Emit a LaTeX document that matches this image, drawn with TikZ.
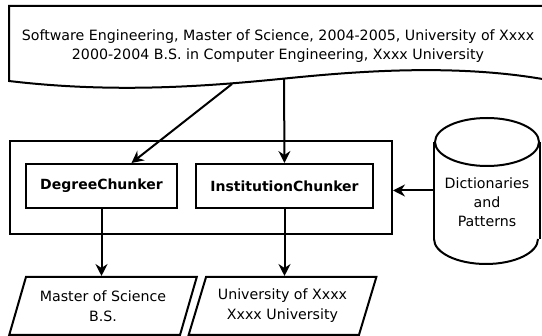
\documentclass[tikz,border=0pt]{standalone}
\usepackage{fontspec}
\setmainfont{DejaVu Sans}
\usepackage{tikz}
\usetikzlibrary{shapes.geometric, arrows.meta, positioning, calc}

\begin{document}
\begin{tikzpicture}[
        x=1pt, y=-1pt,
        line width=2pt,
        every node/.style={font=\fontsize{14.2pt}{19pt}\selectfont},
        chunker/.style={draw, rectangle, minimum height=44pt, align=center, font=\fontsize{14pt}{19pt}\selectfont\bfseries},
        group/.style={draw, rectangle, minimum width=382pt, minimum height=93pt},
        result/.style={draw, trapezium, trapezium left angle=69, trapezium right angle=111, trapezium stretches=true, minimum width=188pt, minimum height=58pt, align=center, font=\fontsize{14.2pt}{20pt}\selectfont},
        cylbody/.style={rectangle, minimum width=104pt, minimum height=95pt, inner sep=0pt},
        arr/.style={-{Stealth[length=12pt, width=12pt, inset=4pt]}}
    ]
        \clip (0,0) rectangle (542,336);

        % Input document
        \draw (548,6) -- (9,6) -- (9,81) .. controls (110,93) and (200,87) .. (280,79)
            .. controls (340,73) and (450,62) .. (548,80);
        \node[align=center] (doc) at (278,46) {Software Engineering, Master of Science, 2004-2005, University of Xxxx\\2000-2004 B.S. in Computer Engineering, Xxxx University};
        \coordinate (docA) at (232,84);
        \coordinate (docB) at (284,78.6);

        % The chunkers
        \node[group] (outer) at (201,187.5) {};
        \node[chunker, minimum width=151pt] (degree) at (101.5,186) {DegreeChunker};
        \node[chunker, minimum width=177pt] (inst) at (284.5,186) {InstitutionChunker};

        % Dictionaries
        \node[cylbody] (dict) at (487,190.5) {};
        \draw (dict.south west) -- (dict.north west);
        \draw (dict.north east) -- (dict.south east);
        \draw (dict.north) ellipse [x radius=52pt, y radius=24pt];
        \draw (dict.south west) arc [start angle=180, end angle=360, x radius=52pt, y radius=25pt];
        \node[align=center] (dicttext) at (487,202) {Dictionaries\\and\\Patterns};

        % Results
        \node[result] (degres) at (103,306) {Master of Science\\B.S.};
        \node[result] (instres) at (282.5,306) {University of Xxxx\\Xxxx University};

        % Arrows
        \draw[arr] (docA) -- ([xshift=30pt]degree.north);
        \draw[arr] (docB) -- (inst.north);
        \draw[arr] (dict.west) -- (dict.west -| outer.east);
        \draw[arr] (degree.south) -- (degree.south |- degres.north);
        \draw[arr] (inst.south) -- (inst.south |- instres.north);

    \end{tikzpicture}
\end{document}
